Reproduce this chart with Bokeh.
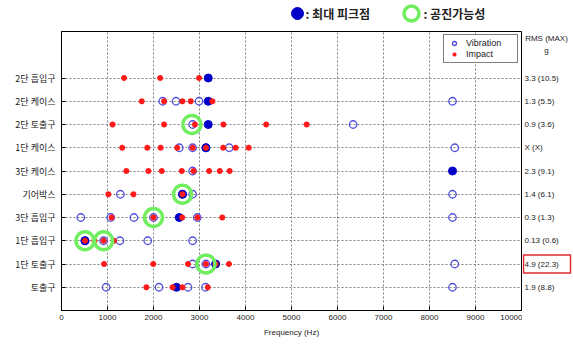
from bokeh.plotting import figure
from bokeh.layouts import column, row
from bokeh.models import Range1d, FixedTicker, Legend, LegendItem
from bokeh.core.properties import value
from bokeh.embed import file_html
from bokeh.resources import INLINE

# ---------------- data ----------------
categories = ["2단 흡입구", "2단 케이스", "2단 토출구", "1단 케이스", "3단 케이스",
              "기어박스", "3단 흡입구", "1단 흡입구", "1단 토출구", "토출구"]
rms_labels = ["3.3 (10.5)", "1.3 (5.5)", "0.9 (3.6)", "X (X)", "2.3 (9.1)",
              "1.4 (6.1)", "0.3 (1.3)", "0.13 (0.6)", "4.9 (22.3)", "1.9 (8.8)"]
rms_title = ["RMS (MAX)", "g"]
highlight = "1단 토출구"
freq_ticks = [0, 1000, 2000, 3000, 4000, 5000, 6000, 7000, 8000, 9000, 10000]
header_texts = [": 최대 피크점", ": 공진가능성"]

# Vibration peaks (open blue circles)
vib_cat = (["2단 케이스"] * 4 + ["2단 토출구"] * 2 + ["1단 케이스"] * 5 + ["3단 케이스"] * 1
           + ["기어박스"] * 4 + ["3단 흡입구"] * 6 + ["1단 흡입구"] * 5 + ["1단 토출구"] * 3
           + ["토출구"] * 5)
vib_hz = ([2200, 2490, 2990, 8500] + [2850, 6340] + [2560, 2850, 3140, 3645, 8550] + [2850]
          + [1280, 2630, 2850, 8500] + [420, 1070, 1575, 2000, 2950, 8500]
          + [510, 915, 1270, 1875, 2850] + [2850, 3140, 8550]
          + [970, 2120, 2750, 3130, 8500])

# Impact peaks (red stars)
imp_cat = (["2단 흡입구"] * 3 + ["2단 케이스"] * 5 + ["2단 토출구"] * 6 + ["1단 케이스"] * 9
           + ["3단 케이스"] * 8 + ["기어박스"] * 3 + ["3단 흡입구"] * 5 + ["1단 흡입구"] * 4
           + ["1단 토출구"] * 6 + ["토출구"] * 4)
imp_hz = ([1360, 2145, 2990] + [1745, 2230, 2630, 2810, 3280]
          + [1110, 2230, 2900, 3520, 4450, 5330]
          + [1320, 1865, 2155, 2515, 2850, 3140, 3515, 3785, 4070]
          + [1410, 1890, 2180, 2615, 2870, 3210, 3440, 3655]
          + [1020, 1565, 2630] + [1090, 2000, 2625, 2955, 3495]
          + [510, 717, 915, 1140] + [925, 1995, 2750, 3140, 3350, 3640]
          + [1845, 2415, 2630, 3180])

# Maximum peak points (filled blue)
peak_cat = categories
peak_hz = [3190, 3190, 3190, 3140, 8500, 2630, 2560, 510, 3350, 2500]

# Possible resonance (green rings)
res_cat = ["2단 토출구", "기어박스", "3단 흡입구", "1단 흡입구", "1단 흡입구", "1단 토출구"]
res_hz = [2835, 2630, 2000, 510, 915, 3140]

# ---------------- styles ----------------
FONT = "Liberation Sans"
KFONT = "Noto Sans CJK KR"
VIB_C = "#5050dc"
PEAK_C = "#0000c8"
IMP_C = "#ff1a1a"
RES_C = "#70ee60"
TXT_C = "#222222"

n = len(categories)
ypos = {c: n - i for i, c in enumerate(categories)}
yticks = [ypos[c] for c in categories]


def ys(cats):
    return [ypos[c] for c in cats]


yr = Range1d(0, 12)

# ---------------- main plot ----------------
p = figure(frame_width=460, frame_height=279, x_range=Range1d(0, 10000), y_range=yr,
           output_backend="svg", toolbar_location=None,
           min_border_left=61, min_border_top=2, min_border_right=1, min_border_bottom=34)
p.outline_line_color = "black"
p.outline_line_alpha = 1.0
p.outline_line_width = 1

p.xaxis.ticker = FixedTicker(ticks=freq_ticks)
p.xaxis.axis_label = "Frequency (Hz)"
p.xaxis.axis_label_text_font = FONT
p.xaxis.axis_label_text_font_style = "normal"
p.xaxis.axis_label_text_font_size = "8px"
p.xaxis.axis_label_standoff = 5
p.xaxis.major_label_text_font = FONT
p.xaxis.major_label_text_font_size = "8px"
p.xaxis.major_label_standoff = 4

p.yaxis.ticker = FixedTicker(ticks=yticks)
p.yaxis.major_label_overrides = {ypos[c]: c for c in categories}
p.yaxis.major_label_text_font = KFONT
p.yaxis.major_label_text_font_size = "9px"
p.yaxis.major_label_standoff = 6

for ax in p.axis:
    ax.axis_line_color = "black"
    ax.major_tick_in = 4
    ax.major_tick_out = 0
    ax.minor_tick_line_color = None
    ax.major_tick_line_color = "black"
    ax.major_label_text_color = TXT_C
    ax.axis_label_text_color = TXT_C

p.xgrid.ticker = FixedTicker(ticks=freq_ticks[1:-1])
p.ygrid.ticker = FixedTicker(ticks=yticks)
for g in p.grid:
    g.grid_line_color = "#808080"
    g.grid_line_dash = "2 2"
    g.grid_line_width = 1
    g.grid_line_alpha = 1.0

r_vib = p.scatter(x=vib_hz, y=ys(vib_cat), marker="circle", size=7.5,
                  line_color=VIB_C, line_width=1.3, fill_color=None)
r_peak = p.scatter(x=peak_hz, y=ys(peak_cat), marker="circle", size=8,
                   line_color=PEAK_C, fill_color=PEAK_C)
r_imp = p.scatter(x=imp_hz, y=ys(imp_cat), marker="asterisk", size=6,
                  line_color=IMP_C, line_width=1.8)
r_res = p.scatter(x=res_hz, y=ys(res_cat), marker="circle", size=18,
                  line_color=RES_C, line_width=3.5, fill_color=None)

legend = Legend(items=[LegendItem(label="Vibration", renderers=[r_vib]),
                       LegendItem(label="Impact", renderers=[r_imp])],
                location="top_right")
legend.border_line_color = "black"
legend.border_line_width = 1
legend.label_text_font = FONT
legend.label_text_font_size = "9px"
legend.label_text_color = TXT_C
legend.glyph_height = 10
legend.glyph_width = 14
legend.label_height = 10
legend.label_width = 48
legend.spacing = 1
legend.padding = 3
legend.margin = 3
legend.label_standoff = 5
p.add_layout(legend)

# ---------------- right-hand RMS column ----------------
pr = figure(frame_width=50, frame_height=279, x_range=Range1d(0, 50), y_range=yr,
            output_backend="svg", toolbar_location=None,
            min_border_left=0, min_border_top=2, min_border_right=0, min_border_bottom=0)
pr.axis.visible = False
pr.grid.visible = False
pr.outline_line_color = None
hi_y = ypos[highlight]
pr.rect(x=[24.5], y=[hi_y], width=47, height=0.78, fill_color=None,
        line_color="#e02a2a", line_width=1.5)
pr.text(x=[2] * n, y=yticks, text=rms_labels, text_font=value(FONT),
        text_font_size="8px", text_color=TXT_C, text_align="left", text_baseline="middle")
pr.text(x=[24, 24], y=[11.72, 11.2], text=rms_title, text_font=value(FONT),
        text_font_size="8px", text_color=TXT_C, text_align="center", text_baseline="middle")

# ---------------- header ----------------
ph = figure(frame_width=572, frame_height=29, x_range=Range1d(0, 572), y_range=Range1d(0, 29),
            output_backend="svg", toolbar_location=None,
            min_border_left=0, min_border_top=0, min_border_right=0, min_border_bottom=0)
ph.axis.visible = False
ph.grid.visible = False
ph.outline_line_color = None
ph.scatter(x=[297], y=[16], marker="circle", size=12, line_color=PEAK_C, fill_color=PEAK_C)
ph.scatter(x=[411], y=[16], marker="circle", size=15, line_color=RES_C, line_width=3.5,
           fill_color=None)
ph.text(x=[305, 423], y=[16, 16], text=header_texts, text_font=value(KFONT),
        text_font_size="12px", text_font_style="bold", text_color=TXT_C,
        text_align="left", text_baseline="middle")

layout = column(ph, row(p, pr))
open("out.html", "w").write(file_html(layout, INLINE))
